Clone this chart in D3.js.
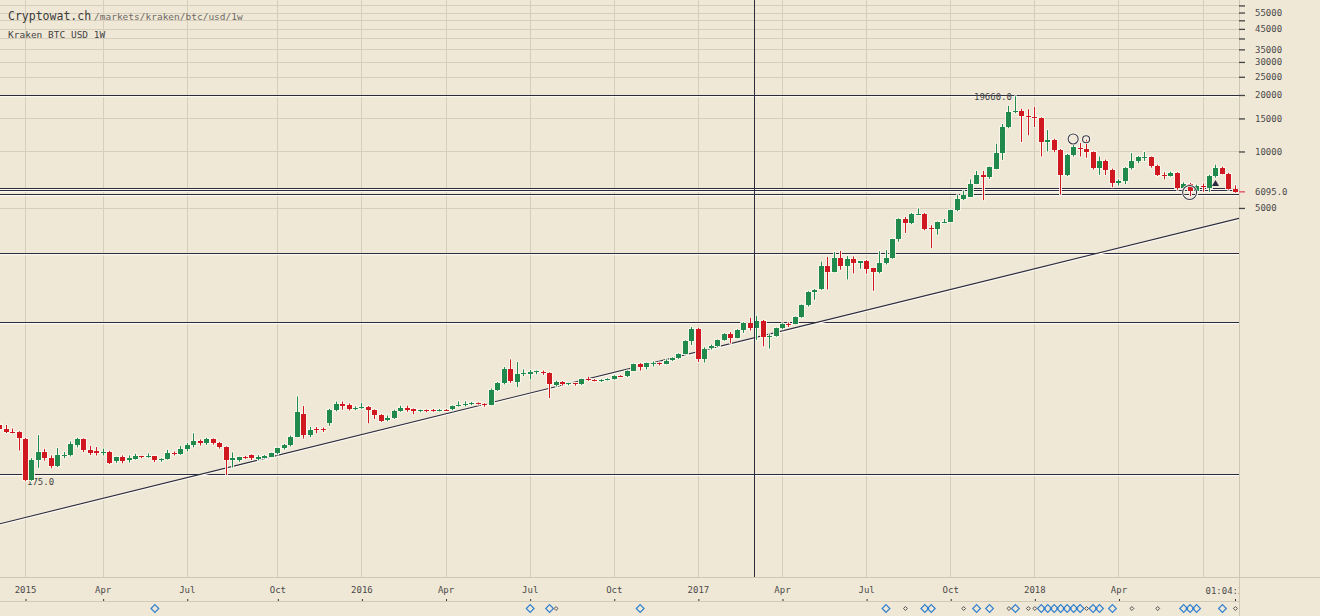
<!DOCTYPE html>
<html>
<head>
<meta charset="utf-8">
<title>Kraken BTC USD 1W</title>
<script src="https://cdnjs.cloudflare.com/ajax/libs/d3/7.8.5/d3.min.js"></script>
<style>
body { margin: 0; background: #f0e8d6; }
svg { display: block; font-family: "DejaVu Sans Mono", monospace; }
</style>
</head>
<body>
<svg id="chart" width="1320" height="616"></svg>
<script>
// weekly candles, Thursday weeks from 2014-12-11 to 2018-08-09
var firstWeek = "2014-12-11", lastWeek = "2018-08-09";

var opens = [349, 331, 320, 318,
  294, 177, 227, 251, 233, 212, 240, 241, 274, 294,
  257, 252, 246, 251, 223, 236, 226, 231, 237, 236,
  237, 229, 230, 248, 245, 259, 272, 285, 278, 292,
  281, 266, 227, 226, 236, 240, 231, 233, 236, 246,
  262, 272, 302, 400, 310, 330, 332, 357, 420, 453,
  446, 426, 434, 437, 420, 395, 370, 382, 416, 432,
  422, 412, 418, 420, 414, 421, 425, 441, 446, 451,
  455, 452, 446, 536, 582, 693, 592, 650, 655, 665,
  668, 660, 572, 592, 575, 582, 575, 612, 608, 603,
  607, 614, 637, 634, 678, 737, 712, 742, 745, 740,
  772, 790, 835, 975, 1130, 780, 895, 915, 988, 1060,
  1015, 1125, 1222, 1150, 1255, 1030, 1045, 1140, 1210, 1205,
  1310, 1520, 1790, 1840, 2440, 2280, 2690, 2455, 2660, 2555,
  2610, 2380, 2270, 2555, 2700, 3405, 4380, 4170, 4640, 4650,
  3890, 3875, 4220, 4225, 4860, 5600, 5750, 6710, 7460, 7300,
  8100, 9800, 13500, 16300, 16450, 15470, 15200, 15000, 11250, 11450,
  10150, 7500, 9580, 10480, 10300, 9900, 8150, 8930, 7960, 6750,
  6950, 8180, 8900, 9300, 9320, 8350, 7500, 7420, 7650, 6350,
  6740, 6150, 6580, 6420, 7420, 8200, 7630, 6320];

var highs = [354, 349, 334, 323,
  298, 232, 308, 260, 240, 263, 250, 285, 298, 296,
  270, 266, 261, 254, 236, 240, 240, 245, 239, 246,
  238, 232, 257, 252, 270, 280, 315, 292, 298, 296,
  283, 268, 249, 236, 239, 243, 241, 241, 248, 264,
  276, 306, 495, 440, 340, 340, 338, 425, 465, 465,
  455, 438, 458, 440, 422, 398, 392, 420, 442, 442,
  426, 421, 421, 424, 424, 424, 443, 466, 466, 462,
  460, 455, 545, 590, 710, 780, 755, 690, 685, 680,
  680, 665, 600, 597, 585, 585, 615, 630, 612, 612,
  618, 642, 642, 680, 740, 745, 750, 760, 752, 780,
  800, 840, 985, 1160, 1150, 905, 935, 995, 1075, 1090,
  1130, 1230, 1300, 1330, 1265, 1060, 1150, 1215, 1225, 1320,
  1530, 1800, 1850, 2590, 2740, 2910, 2950, 2770, 2760, 2600,
  2640, 2400, 2940, 2980, 3420, 4400, 4480, 4700, 4980, 4700,
  4050, 4230, 4370, 4900, 5850, 6180, 7100, 7880, 7880, 8300,
  11000, 14000, 17500, 19660, 16900, 16800, 17300, 15200, 13000, 11700,
  10300, 9700, 11100, 11100, 11550, 10000, 9400, 9050, 8100, 7100,
  8250, 9800, 9450, 9950, 9400, 8500, 7750, 7800, 7750, 6850,
  6800, 6650, 6750, 7500, 8500, 8300, 7700, 6600];

var lows = [325, 316, 315, 255,
  175, 176, 206, 225, 205, 208, 232, 237, 265, 250,
  241, 240, 240, 216, 219, 218, 220, 228, 232, 233,
  221, 222, 228, 240, 242, 252, 265, 271, 273, 274,
  261, 189, 207, 222, 230, 227, 226, 231, 235, 243,
  258, 268, 300, 295, 300, 315, 320, 345, 412, 420,
  416, 418, 425, 356, 375, 362, 365, 376, 410, 410,
  398, 408, 408, 410, 412, 415, 418, 437, 438, 445,
  448, 436, 444, 530, 574, 585, 555, 635, 610, 650,
  645, 485, 560, 565, 568, 565, 570, 600, 596, 592,
  602, 608, 628, 628, 675, 680, 690, 715, 725, 735,
  765, 785, 830, 930, 755, 750, 880, 910, 980, 950,
  1010, 1080, 1110, 990, 915, 890, 1030, 1130, 1160, 1200,
  1300, 1490, 1620, 1830, 1840, 2270, 2340, 2080, 2240, 2370,
  2230, 1810, 2240, 2500, 2680, 3300, 3680, 4100, 4580, 3800,
  3050, 3600, 4150, 4200, 4800, 5500, 5720, 6700, 5500, 7150,
  8050, 9000, 13300, 16000, 11240, 12200, 13500, 9400, 10000, 9900,
  5900, 7400, 9400, 9400, 9250, 8000, 7500, 7500, 6450, 6580,
  6700, 8000, 8650, 8900, 8200, 7400, 7100, 7350, 6250, 6150,
  5780, 5800, 6100, 6100, 7250, 7550, 6250, 6030];

var closes = [332, 320, 318, 298,
  177, 227, 251, 233, 212, 240, 242, 277, 294, 257,
  248, 246, 251, 220, 236, 224, 233, 237, 235, 239,
  227, 230, 248, 245, 259, 272, 285, 278, 292, 278,
  266, 227, 232, 234, 234, 233, 236, 238, 246, 262,
  272, 300, 408, 310, 328, 326, 328, 420, 453, 440,
  426, 430, 437, 420, 395, 366, 382, 415, 432, 420,
  412, 418, 414, 414, 421, 420, 441, 446, 451, 455,
  452, 444, 536, 584, 693, 597, 650, 658, 667, 673,
  660, 580, 592, 575, 582, 575, 612, 608, 605, 607,
  614, 636, 634, 678, 737, 712, 742, 745, 738, 768,
  792, 835, 975, 1130, 785, 890, 918, 988, 1060, 1020,
  1125, 1222, 1150, 1255, 1030, 1045, 1140, 1210, 1205, 1310,
  1520, 1790, 1835, 2440, 2280, 2690, 2460, 2660, 2560, 2595,
  2360, 2270, 2555, 2700, 3405, 4380, 4170, 4640, 4650, 3880,
  3875, 4220, 4230, 4850, 5600, 5870, 6710, 7460, 7300, 8250,
  9800, 13500, 16300, 16450, 15500, 15200, 15000, 11300, 11450, 10150,
  7480, 9580, 10500, 10300, 9900, 8140, 8930, 7960, 6750, 6950,
  8200, 8900, 9300, 9320, 8350, 7500, 7450, 7650, 6350, 6740,
  6150, 6580, 6450, 7420, 8200, 7630, 6320, 6095];

// x axis: first candle of each quarter month
var tickDates = ["2015-01-08", "2015-04-02", "2015-07-02", "2015-10-08", "2016-01-07", "2016-04-07",
  "2016-07-07", "2016-10-06", "2017-01-05", "2017-04-06", "2017-07-06", "2017-10-05", "2018-01-04", "2018-04-05"];
var tickLabels = ["2015", "Apr", "Jul", "Oct", "2016", "Apr", "Jul", "Oct", "2017", "Apr", "Jul", "Oct", "2018", "Apr"];
var extraGridDates = ["2018-07-05"];
var nowLabel = "01:04:38";

// y axis
var priceTicks = [5000, 10000, 15000, 20000, 25000, 30000, 35000, 40000, 45000, 50000, 55000, 60000];
var hiddenPriceLabels = [40000, 50000, 60000];
var lastPrice = 6095.0;

// drawn horizontal levels and trend line
var levels = [19900, 6415, 6236, 5917, 2870, 1230, 190];
var trendPoints = [["2015-01-08", 112], ["2018-08-09", 4347]];
var crosshairDate = "2017-03-07";

// annotation markers
var circleMarks = [["2018-02-15", 11657, 5], ["2018-03-01", 11614, 3.5], ["2018-06-21", 6045, 7]];
var triangleMarks = [["2018-07-19", 6709]];
var blueEvents = ["2015-05-28", "2016-07-07", "2016-07-28", "2016-11-03", "2017-07-27", "2017-09-07",
  "2017-09-14", "2017-11-02", "2017-11-16", "2017-12-14", "2018-01-11", "2018-01-18", "2018-01-25",
  "2018-02-01", "2018-02-08", "2018-02-15", "2018-02-22", "2018-03-08", "2018-03-15", "2018-03-29",
  "2018-06-14", "2018-06-21", "2018-06-28", "2018-07-26"];
var grayEvents = ["2016-08-04", "2017-08-17", "2017-10-19", "2017-12-07", "2017-12-28", "2018-01-04",
  "2018-03-01", "2018-04-19", "2018-05-17", "2018-08-09"];

var parse = d3.utcParse("%Y-%m-%d");
var plotW = 1239, plotH = 577;
var green = "#1f8a4c", red = "#cf1820", halo = "#fbf8ee", ink = "#2c2c40";

var weeks = d3.utcThursday.range(parse(firstWeek), d3.utcDay.offset(parse(lastWeek), 1));
var candles = weeks.map(function(d, i) {
  return { date: d, o: opens[i], h: highs[i], l: lows[i], c: closes[i] };
});

var x = d3.scaleUtc().domain([parse("2015-01-08"), parse(lastWeek)]).range([25, 1234.9]);
var y = d3.scaleLog().domain([54, 64140]).range([plotH, 0]);

var svg = d3.select("#chart");
svg.append("rect").attr("width", 1320).attr("height", 616).attr("fill", "#f0e8d6");

var defs = svg.append("defs");
defs.append("clipPath").attr("id", "plotclip").append("rect").attr("width", plotW).attr("height", plotH);
defs.append("clipPath").attr("id", "axisclip").append("rect").attr("width", plotW).attr("height", 616);

var plot = svg.append("g").attr("clip-path", "url(#plotclip)");

// grid
plot.selectAll(".vgrid").data(tickDates.concat(extraGridDates)).enter().append("line")
  .attr("x1", function(d) { return Math.round(x(parse(d))) + 0.5; })
  .attr("x2", function(d) { return Math.round(x(parse(d))) + 0.5; })
  .attr("y1", 0).attr("y2", plotH)
  .attr("stroke", "#d6cdbb").attr("stroke-width", 1);

plot.selectAll(".hgrid").data(priceTicks).enter().append("line")
  .attr("x1", 0).attr("x2", plotW)
  .attr("y1", function(d) { return Math.round(y(d)) + 0.5; })
  .attr("y2", function(d) { return Math.round(y(d)) + 0.5; })
  .attr("stroke", "#d6cdbb").attr("stroke-width", 1);

// horizontal levels
levels.forEach(function(v) {
  var yy = Math.round(y(v)) + 0.5;
  plot.append("line").attr("x1", 0).attr("x2", plotW).attr("y1", yy + 1).attr("y2", yy + 1)
    .attr("stroke", halo).attr("stroke-width", 1.5);
  plot.append("line").attr("x1", 0).attr("x2", plotW).attr("y1", yy).attr("y2", yy)
    .attr("stroke", ink).attr("stroke-width", 1.2);
});

// trend line, extended to the plot edges
var p1 = [x(parse(trendPoints[0][0])), y(trendPoints[0][1])];
var p2 = [x(parse(trendPoints[1][0])), y(trendPoints[1][1])];
var slope = (p2[1] - p1[1]) / (p2[0] - p1[0]);
var ty0 = p1[1] - slope * p1[0], ty1 = p1[1] + slope * (plotW - p1[0]);
plot.append("line").attr("x1", 0).attr("y1", ty0 + 1).attr("x2", plotW).attr("y2", ty1 + 1)
  .attr("stroke", halo).attr("stroke-width", 1.6);
plot.append("line").attr("x1", 0).attr("y1", ty0).attr("x2", plotW).attr("y2", ty1)
  .attr("stroke", ink).attr("stroke-width", 1.1);

// min / max labels
var minC = candles[d3.minIndex(candles, function(d) { return d.l; })];
var maxC = candles[d3.maxIndex(candles, function(d) { return d.h; })];
plot.append("text").attr("x", x(minC.date) + 2).attr("y", y(minC.l) + 3.5)
  .attr("font-size", 9).attr("fill", "#444").text(minC.l.toFixed(1));
plot.append("text").attr("x", x(maxC.date) - 3).attr("y", y(maxC.h) + 3.5)
  .attr("text-anchor", "end").attr("font-size", 9).attr("fill", "#444").text(maxC.h.toFixed(1));

// candles
var bodyW = 4;
var cg = plot.append("g");
function cx(d) { return Math.round(x(d.date)); }
function bodyTop(d) { return Math.round(y(Math.max(d.o, d.c))); }
function bodyH(d) { return Math.max(1, Math.round(y(Math.min(d.o, d.c))) - bodyTop(d)); }
function col(d) { return d.c >= d.o ? green : red; }

cg.selectAll(".wh").data(candles).enter().append("line")
  .attr("x1", function(d) { return cx(d) + 0.5; }).attr("x2", function(d) { return cx(d) + 0.5; })
  .attr("y1", function(d) { return y(d.h) - 1; }).attr("y2", function(d) { return y(d.l) + 1; })
  .attr("stroke", halo).attr("stroke-width", 3).attr("opacity", 0.85);
cg.selectAll(".bh").data(candles).enter().append("rect")
  .attr("x", function(d) { return cx(d) - bodyW / 2 - 1; })
  .attr("y", function(d) { return bodyTop(d) - 1; })
  .attr("width", bodyW + 3).attr("height", function(d) { return bodyH(d) + 2; })
  .attr("fill", halo).attr("opacity", 0.85);
cg.selectAll(".wick").data(candles).enter().append("line")
  .attr("x1", function(d) { return cx(d) + 0.5; }).attr("x2", function(d) { return cx(d) + 0.5; })
  .attr("y1", function(d) { return y(d.h); }).attr("y2", function(d) { return y(d.l); })
  .attr("stroke", col).attr("stroke-width", 1);
cg.selectAll(".body").data(candles).enter().append("rect")
  .attr("x", function(d) { return cx(d) - bodyW / 2; })
  .attr("y", bodyTop)
  .attr("width", bodyW + 1).attr("height", bodyH)
  .attr("fill", col);

// crosshair
var chx = Math.round(x(parse(crosshairDate))) + 0.5;
svg.append("line").attr("x1", chx).attr("x2", chx).attr("y1", 0).attr("y2", plotH)
  .attr("stroke", ink).attr("stroke-width", 1);

// annotation marks
circleMarks.forEach(function(m) {
  plot.append("circle").attr("cx", x(parse(m[0]))).attr("cy", y(m[1])).attr("r", m[2])
    .attr("fill", "none").attr("stroke", halo).attr("stroke-width", 2.5);
  plot.append("circle").attr("cx", x(parse(m[0]))).attr("cy", y(m[1])).attr("r", m[2])
    .attr("fill", "none").attr("stroke", "#3a3a4a").attr("stroke-width", 1.1);
});
triangleMarks.forEach(function(m) {
  plot.append("path").attr("d", d3.symbol(d3.symbolTriangle, 22)())
    .attr("transform", "translate(" + x(parse(m[0])) + "," + y(m[1]) + ")")
    .attr("fill", "#2a2a44");
});

// frame lines
svg.append("line").attr("x1", 0).attr("x2", 1320).attr("y1", plotH + 0.5).attr("y2", plotH + 0.5)
  .attr("stroke", "#cfc6b3");
svg.append("line").attr("x1", plotW + 0.5).attr("x2", plotW + 0.5).attr("y1", 0).attr("y2", 616)
  .attr("stroke", "#cfc6b3");
svg.append("line").attr("x1", 0).attr("x2", plotW).attr("y1", 601.5).attr("y2", 601.5)
  .attr("stroke", "#d2c9b7");

// x axis
var xAxis = d3.axisTop(x)
  .tickValues(tickDates.map(parse))
  .tickSize(2).tickSizeOuter(0).tickPadding(6)
  .tickFormat(function(d, i) { return tickLabels[i]; });
var xg = svg.append("g").attr("transform", "translate(0,601)").call(xAxis);
xg.select(".domain").remove();
xg.selectAll(".tick line").attr("stroke", "#333").attr("transform", "translate(0.5,0)");
xg.selectAll("text").attr("font-family", "DejaVu Sans Mono").attr("font-size", 9).attr("fill", "#4a4a4a");

// current time marker on x axis
var nowG = svg.append("g").attr("clip-path", "url(#axisclip)");
var nx = Math.round(x(parse(lastWeek))) + 0.5;
nowG.append("line").attr("x1", nx).attr("x2", nx).attr("y1", 599).attr("y2", 601).attr("stroke", "#333");
nowG.append("text").attr("x", nx - 30).attr("y", 594).attr("font-size", 9).attr("fill", "#4a4a4a").text(nowLabel);

// right price axis
var yAxis = d3.axisRight(y)
  .tickValues(priceTicks).tickSize(6).tickPadding(10)
  .tickFormat(function(d) { return hiddenPriceLabels.indexOf(d) >= 0 ? "" : d; });
var yg = svg.append("g").attr("transform", "translate(" + plotW + ",0)").call(yAxis);
yg.select(".domain").remove();
yg.selectAll(".tick line").attr("stroke", "#444").attr("stroke-width", 1.3);
yg.selectAll("text").attr("font-family", "DejaVu Sans Mono").attr("font-size", 9).attr("fill", "#4a4a4a");

var lp = y(lastPrice);
svg.append("line").attr("x1", plotW).attr("x2", plotW + 6).attr("y1", lp).attr("y2", lp)
  .attr("stroke", "#e0606a").attr("stroke-width", 1.5);
svg.append("text").attr("x", plotW + 16).attr("y", lp + 3.2).attr("font-size", 9).attr("fill", "#4a4a4a")
  .text(lastPrice.toFixed(1));

// event markers under the axis
svg.selectAll(".ev").data(blueEvents).enter().append("path")
  .attr("d", d3.symbol(d3.symbolDiamond2, 38)())
  .attr("transform", function(d) { return "translate(" + (x(parse(d)) + 0.5) + ",608.5)"; })
  .attr("fill", "none").attr("stroke", "#2f7fd1").attr("stroke-width", 1.2);
svg.selectAll(".evs").data(grayEvents).enter().append("path")
  .attr("d", d3.symbol(d3.symbolDiamond2, 10)())
  .attr("transform", function(d) { return "translate(" + (x(parse(d)) + 0.5) + ",608.5)"; })
  .attr("fill", "none").attr("stroke", "#555").attr("stroke-width", 1);

// title
svg.append("text").attr("x", 8).attr("y", 20).attr("font-size", 11.5).attr("fill", "#3a3a3a").text("Cryptowat.ch");
svg.append("text").attr("x", 94).attr("y", 20).attr("font-size", 9.5).attr("fill", "#6d6a66").text("/markets/kraken/btc/usd/1w");
svg.append("text").attr("x", 8).attr("y", 38).attr("font-size", 9.5).attr("fill", "#444").text("Kraken BTC USD 1W");
</script>
</body>
</html>
